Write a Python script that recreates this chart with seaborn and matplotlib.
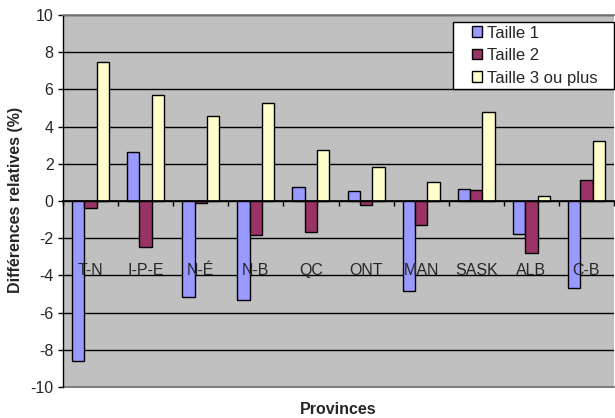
import matplotlib
matplotlib.use("Agg")
import matplotlib.pyplot as plt
from matplotlib.patches import Rectangle
import seaborn as sns
import pandas as pd

# Provinces and relative differences (%) by household size
provinces = ["T-N", "I-P-E", "N-É", "N-B", "QC", "ONT", "MAN", "SASK", "ALB", "C-B"]
taille_1 = [-8.6, 2.65, -5.18, -5.34, 0.73, 0.52, -4.84, 0.63, -1.76, -4.66]
taille_2 = [-0.39, -2.47, -0.13, -1.85, -1.69, -0.2, -1.31, 0.57, -2.81, 1.11]
taille_3 = [7.47, 5.68, 4.59, 5.25, 2.76, 1.83, 1.0, 4.77, 0.25, 3.24]
series_names = ["Taille 1", "Taille 2", "Taille 3 ou plus"]
series_colors = ["#9999FF", "#993366", "#FFFFCC"]

df = pd.DataFrame({
    "Province": provinces * 3,
    "Valeur": taille_1 + taille_2 + taille_3,
    "Série": [s for s in series_names for _ in provinces],
})

sns.set_theme(style="white")
plt.rcParams["font.family"] = ["Liberation Sans", "DejaVu Sans"]
plt.rcParams["axes.unicode_minus"] = False

W, H = 615, 418
fig = plt.figure(figsize=(W / 100, H / 100), dpi=100)
ax = fig.add_axes([63 / W, 31 / H, 551 / W, 372 / H])
ax.set_facecolor("#C0C0C0")

sns.barplot(data=df, x="Province", y="Valeur", hue="Série", order=provinces,
            hue_order=series_names, palette=series_colors, width=0.67,
            edgecolor="black", linewidth=1, saturation=1, ax=ax, zorder=3)

ax.set_xlim(-0.5, len(provinces) - 0.5)
ax.set_ylim(-10, 10)
ax.set_yticks(range(-10, 11, 2))
ax.yaxis.grid(True, color="black", linewidth=1, zorder=1)
ax.set_axisbelow(True)
ax.tick_params(axis="y", direction="out", length=3.6, width=1, color="black",
               labelsize=11.5, pad=3.2, left=True)

# category axis sits on the zero line, with ticks between groups
ax.spines["bottom"].set_position(("data", 0))
ax.spines["bottom"].set_color("black")
ax.spines["bottom"].set_zorder(4)
ax.set_xticks(range(len(provinces)))
ax.set_xticklabels([])
ax.tick_params(axis="x", which="major", length=0)
ax.set_xticks([i - 0.5 for i in range(len(provinces) + 1)], minor=True)
ax.tick_params(axis="x", which="minor", direction="out", length=3.6, width=1,
               color="black", bottom=True)
for i, p in enumerate(provinces):
    ax.text(i, -3.75, p, ha="center", va="center", fontsize=11.5, zorder=6)

ax.spines["left"].set_color("black")
ax.spines["left"].set_linewidth(1)
ax.spines["top"].set_color("#808080")
ax.spines["right"].set_visible(False)
ax.axhline(-10, color="#808080", linewidth=1.5, clip_on=False, zorder=2)

ax.set_xlabel("")
ax.set_ylabel("")
fig.text(16 / W, 1 - 200 / H, "Différences relatives (%)", rotation=90,
         ha="center", va="center", fontsize=11.5, fontweight="bold")
fig.text(338 / W, 1 - 410 / H, "Provinces", ha="center", va="center",
         fontsize=11.5, fontweight="bold")

# legend box
ax.add_patch(Rectangle((452.7 / W, 1 - 89.3 / H), 161.3 / W, 67.6 / H,
                       transform=fig.transFigure, facecolor="white",
                       edgecolor="black", linewidth=1, clip_on=False, zorder=9))
leg = ax.legend(loc="upper left", bbox_to_anchor=(471.7 / W, 1 - 25.5 / H),
                bbox_transform=fig.transFigure, borderaxespad=0, borderpad=0,
                frameon=False, fontsize=12,
                handlelength=0.6, handleheight=0.6, handletextpad=0.3,
                labelspacing=0.45)
for h in leg.legend_handles:
    h.set_edgecolor("black")
    h.set_linewidth(1)
leg.set_zorder(10)

fig.savefig("out.png", dpi=100)
